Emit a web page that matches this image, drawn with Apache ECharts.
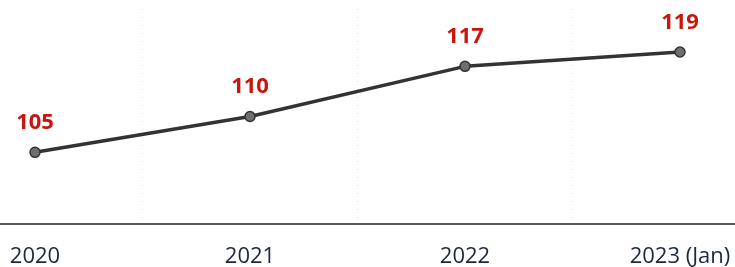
<!DOCTYPE html>
<html>
<head>
<meta charset="utf-8">
<script src="https://cdn.jsdelivr.net/npm/echarts@6/dist/echarts.min.js"></script>
<style>
  html, body { margin: 0; padding: 0; background: #fff; }
  #main { width: 735px; height: 267px; }
</style>
</head>
<body>
<div id="main"></div>
<script>
var years = ['2020', '2021', '2022', '2023 (Jan)'];
var values = [105, 110, 117, 119];

var myChart = echarts.init(document.getElementById('main'));

var option = {
    backgroundColor: '#ffffff',
    animation: false,
    grid: {
        left: -72.5,
        right: -52.5,
        top: 9,
        bottom: 43,
        outerBoundsMode: 'none',
        containLabel: false
    },
    xAxis: {
        type: 'category',
        data: years,
        boundaryGap: true,
        axisLine: { lineStyle: { color: '#222', width: 1.5 } },
        axisTick: { show: false },
        axisLabel: {
            color: '#1c2640',
            fontFamily: 'Open Sans',
            fontSize: 22,
            margin: 22
        },
        splitLine: {
            show: true,
            lineStyle: { color: '#d8d8d8', type: [1, 7], width: 1 }
        }
    },
    yAxis: {
        type: 'value',
        min: 95,
        max: 125,
        show: false
    },
    series: [{
        type: 'line',
        data: values,
        symbol: 'circle',
        symbolSize: 10,
        lineStyle: { color: '#333', width: 3.5 },
        itemStyle: { color: '#6e6e6e', borderColor: '#333', borderWidth: 1.5 },
        label: {
            show: true,
            position: 'top',
            distance: 13,
            color: '#c8160e',
            fontFamily: 'Open Sans',
            fontWeight: 'bold',
            fontSize: 22
        }
    }]
};
myChart.setOption(option);
</script>
</body>
</html>
